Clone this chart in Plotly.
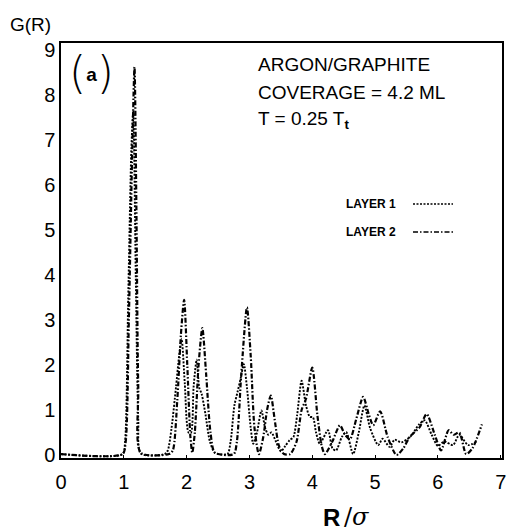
import plotly.graph_objects as go

# Layer 1 (dotted)
r_layer1 = [0.0, 0.98, 1.02, 1.07, 1.12, 1.15, 1.19, 1.23, 1.27, 1.65, 1.70, 1.76, 1.83, 1.88, 1.92,
            1.97, 2.03, 2.07, 2.11, 2.16, 2.20, 2.24, 2.30, 2.37, 2.45, 2.65, 2.70, 2.76, 2.81, 2.86,
            2.91, 2.96, 3.02, 3.06, 3.12, 3.19, 3.25, 3.30, 3.35, 3.42, 3.50, 3.57, 3.64, 3.70, 3.76,
            3.83, 3.90, 3.96, 4.01, 4.06, 4.12, 4.25, 4.32, 4.38, 4.47, 4.54, 4.65, 4.74, 4.83, 4.92,
            5.05, 5.12, 5.23, 5.31, 5.42, 5.57, 5.70, 5.79, 5.90, 6.00, 6.10, 6.24, 6.34, 6.48, 6.61]
g_layer1 = [0.02, 0.02, 0.3, 3.5, 6.8, 7.65, 4.0, 0.8, 0.03, 0.02, 0.1, 0.6, 1.5, 2.2, 2.58,
            1.6, 0.5, 0.5, 1.5, 2.12, 1.5, 1.35, 0.9, 0.3, 0.05, 0.02, 0.3, 1.1, 1.4, 1.7,
            2.02, 1.5, 0.6, 0.25, 0.5, 0.99, 0.6, 0.45, 0.5, 0.3, 0.08, 0.2, 0.33, 0.4, 0.9,
            1.65, 1.1, 0.85, 0.84, 0.5, 0.25, 0.55, 0.15, 0.1, 0.4, 0.51, 0.02, 0.5, 1.1, 0.6,
            0.22, 0.36, 0.18, 0.34, 0.28, 0.42, 0.68, 0.77, 0.45, 0.2, 0.3, 0.22, 0.45, 0.22, 0.29]

# Layer 2 (dash-dot)
r_layer2 = [0.0, 0.98, 1.03, 1.08, 1.13, 1.17, 1.20, 1.23, 1.27, 1.72, 1.78, 1.85, 1.91, 1.96, 2.01,
            2.06, 2.09, 2.13, 2.19, 2.25, 2.31, 2.38, 2.45, 2.75, 2.80, 2.87, 2.96, 3.02, 3.08, 3.15,
            3.22, 3.28, 3.34, 3.40, 3.47, 3.55, 3.65, 3.75, 3.83, 3.90, 4.00, 4.08, 4.15, 4.20, 4.32,
            4.44, 4.52, 4.60, 4.70, 4.81, 4.90, 4.97, 5.08, 5.20, 5.34, 5.45, 5.55, 5.71, 5.82, 5.95,
            6.05, 6.17, 6.25, 6.34, 6.45, 6.55, 6.70]
g_layer2 = [0.02, 0.02, 0.3, 3.0, 6.5, 8.62, 5.5, 1.5, 0.05, 0.02, 0.1, 1.2, 2.7, 3.45, 2.0,
            0.4, 0.05, 0.5, 2.0, 2.82, 1.8, 0.5, 0.05, 0.02, 0.3, 1.8, 3.28, 2.2, 0.6, 0.02,
            0.4, 1.0, 1.32, 0.8, 0.2, 0.02, 0.02, 0.3, 1.0, 1.25, 1.94, 0.9, 0.2, 0.02, 0.3,
            0.66, 0.45, 0.35, 0.8, 1.29, 0.9, 0.66, 0.97, 0.4, 0.0, 0.15, 0.4, 0.62, 0.91, 0.45,
            0.1, 0.55, 0.45, 0.5, 0.02, 0.15, 0.68]

x_ticks = [0, 1, 2, 3, 4, 5, 6, 7]
y_ticks = [0, 1, 2, 3, 4, 5, 6, 7, 8, 9]

fig = go.Figure()
fig.add_trace(go.Scatter(x=r_layer1, y=g_layer1, mode="lines", name="LAYER 1",
                         line=dict(color="black", width=1.9, dash="2px,1.5px", shape="spline", smoothing=0.7)))
fig.add_trace(go.Scatter(x=r_layer2, y=g_layer2, mode="lines", name="LAYER 2",
                         line=dict(color="black", width=2.2, dash="5px,2px,1.5px,2px", shape="spline", smoothing=0.7)))

font_main = "Liberation Sans, Arial, sans-serif"

fig.update_layout(
    width=517, height=531,
    margin=dict(l=61, r=15, t=43, b=73),
    paper_bgcolor="white", plot_bgcolor="white",
    showlegend=False,
    font=dict(family=font_main, color="black"),
    xaxis=dict(range=[0, 7.02], tickvals=x_ticks, ticktext=[str(v) for v in x_ticks],
               showgrid=False, zeroline=False, showline=True, linecolor="black", linewidth=1.5,
               mirror=True, ticks="inside", ticklen=3, tickcolor="black",
               tickfont=dict(size=20, family=font_main), ticklabelstandoff=5),
    yaxis=dict(range=[-0.067, 9.155], tickvals=y_ticks, ticktext=[str(v) for v in y_ticks],
               showgrid=False, zeroline=False, showline=True, linecolor="black", linewidth=1.5,
               mirror=True, ticks="", tickfont=dict(size=20, family=font_main)),
)


def px_x(p):
    return (p - 61) / 441.0


def px_y(p):
    return (531 - 73 - p) / 415.0


def note(text, x, y, size, xanchor="left", family=font_main):
    fig.add_annotation(text=text, x=px_x(x), y=px_y(y), xref="paper", yref="paper",
                       xanchor=xanchor, yanchor="middle", showarrow=False,
                       font=dict(size=size, family=family, color="black"))


note("G(R)", 8, 25, 19)
paren_font = "DejaVu Sans Light, Liberation Sans, sans-serif"
note("(<span style='font-size:19px;font-family:Liberation Sans;font-weight:bold;baseline-shift:7px'>a</span>)",
     91, 72, 44, xanchor="center", family=paren_font)
for txt, yy in [("ARGON/GRAPHITE", 65), ("COVERAGE = 4.2 ML", 92),
                ("T = 0.25 T<sub><b>t</b></sub>", 120)]:
    note(txt, 256, yy, 19)
for name, yy, dash, w in [("LAYER 1", 204, "2px,1.5px", 1.4), ("LAYER 2", 232, "5px,2px,1.5px,2px", 1.4)]:
    note("<b>" + name + "</b>", 344, yy, 12)
    fig.add_shape(type="line", xref="paper", yref="paper",
                  x0=px_x(413), x1=px_x(453), y0=px_y(yy), y1=px_y(yy),
                  line=dict(color="black", width=w, dash=dash))
note("<b>R</b>", 331, 517, 24, xanchor="center")
note("/<i>σ</i>", 356, 517, 24, xanchor="center", family="DejaVu Serif, serif")

fig.write_html("out.html")
